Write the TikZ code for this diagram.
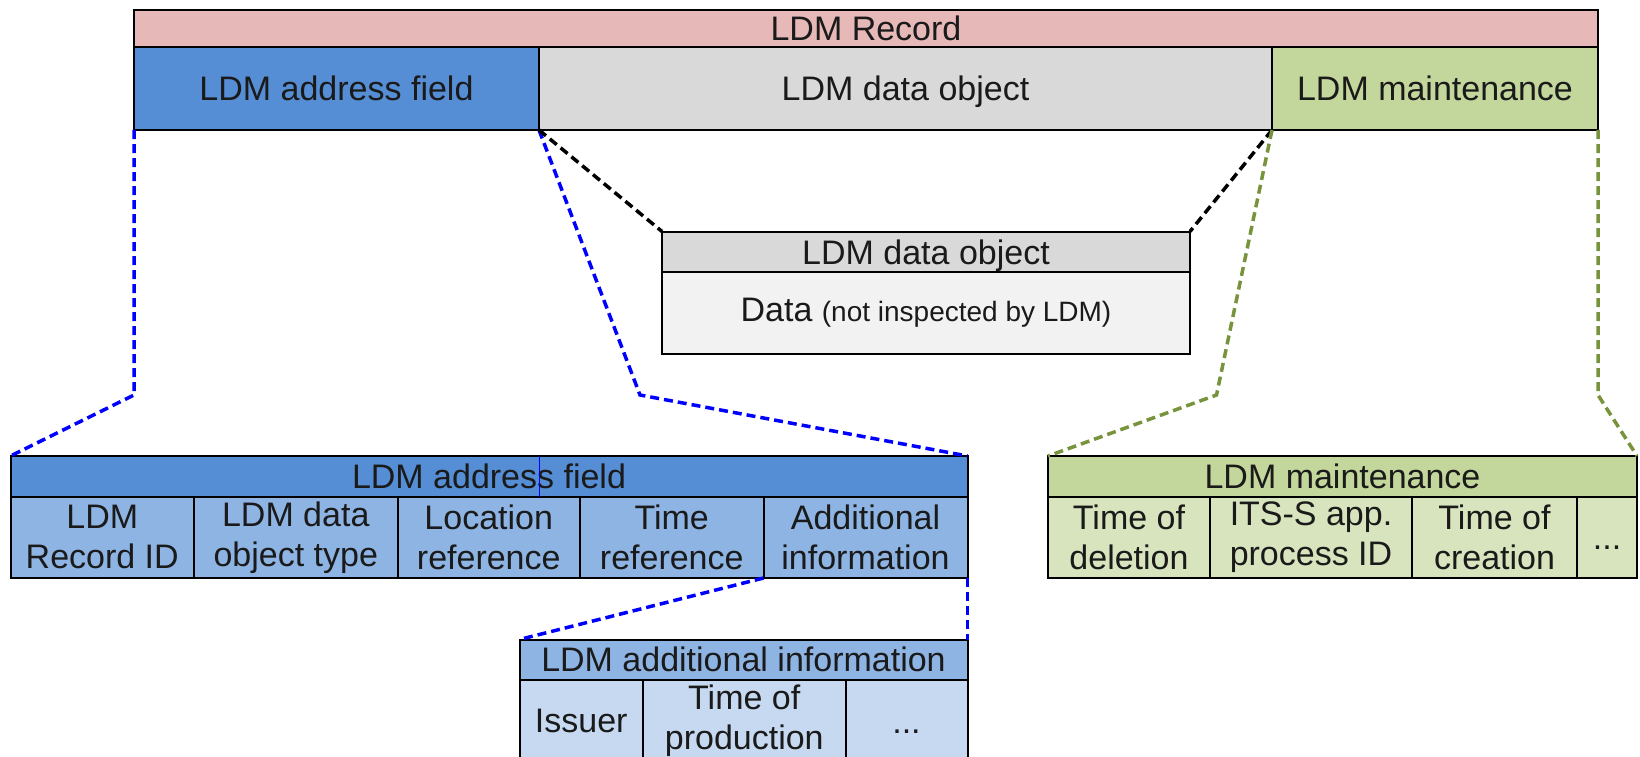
\documentclass[tikz,border=0pt]{standalone}
\usepackage{fontspec}
\setmainfont{Liberation Sans}

\definecolor{recpink}{HTML}{E6B8B7}
\definecolor{addrblue}{HTML}{558ED5}
\definecolor{objgray}{HTML}{D9D9D9}
\definecolor{maintgreen}{HTML}{C3D69B}
\definecolor{lightgray}{HTML}{F2F2F2}
\definecolor{midblue}{HTML}{8EB4E3}
\definecolor{paleblue}{HTML}{C6D9F1}
\definecolor{palegreen}{HTML}{D7E4BD}
\definecolor{olive}{HTML}{77933C}
\definecolor{dashblue}{HTML}{0000FF}
\definecolor{ink}{HTML}{1A1A1A}

\newcommand\bigfs{\fontsize{34}{40}\selectfont}
\newcommand\smallfs{\fontsize{28}{33}\selectfont}

\tikzset{
  box/.style={draw=black, line width=2pt, inner sep=0pt, outer sep=0pt,
              anchor=north west, font=\bigfs, text=ink, align=center},
  % baseline placed as for a line without descenders
  flatline/.style={text height=24.5pt, text depth=0pt},
  zoomline/.style={line width=3.5pt, dash pattern=on 9pt off 5pt},
  zoomblue/.style={zoomline, draw=dashblue},
  zoomblack/.style={zoomline, draw=black},
  zoomgreen/.style={zoomline, draw=olive},
}

\begin{document}
\begin{tikzpicture}[x=1pt, y=-1pt]
\useasboundingbox (0,0) rectangle (1640,757);
\clip (0,0) rectangle (1640,757);

% LDM record
\node[box, fill=recpink, minimum width=1464pt, minimum height=37pt] (rec) at (134,10) {LDM Record};
\node[box, fill=addrblue, minimum width=405pt, minimum height=83pt] (addr) at (134,47) {LDM address field};
\node[box, flatline, fill=objgray, minimum width=733pt, minimum height=83pt] (obj) at (539,47) {LDM data object};
\node[box, fill=maintgreen, minimum width=326pt, minimum height=83pt] (maint) at (1272,47) {LDM maintenance};

% data object detail
\node[box, flatline, fill=objgray, minimum width=528pt, minimum height=40.5pt] (objhead) at (662,231.5) {LDM data object};
\node[box, fill=lightgray, minimum width=528pt, minimum height=82pt] (objbody) at (662,272) {Data {\smallfs (not inspected by LDM)}};

% address field detail
\node[box, fill=addrblue, minimum width=957pt, minimum height=40.5pt] (ahead) at (10.5,456) {LDM address field};
\node[box, fill=midblue, minimum width=183.5pt, minimum height=81.5pt] (a1) at (10.5,496.5) {LDM\\Record ID};
\node[box, fill=midblue, minimum width=203.5pt, minimum height=81.5pt] (a2) at (194,496.5) {LDM data\\object type};
\node[box, fill=midblue, minimum width=182.5pt, minimum height=81.5pt] (a3) at (397.5,496.5) {Location\\reference};
\node[box, fill=midblue, minimum width=183.5pt, minimum height=81.5pt] (a4) at (580,496.5) {Time\\reference};
\node[box, fill=midblue, minimum width=204pt, minimum height=81.5pt] (a5) at (763.5,496.5) {Additional\\information};

% maintenance detail
\node[box, fill=maintgreen, minimum width=589pt, minimum height=40.5pt] (mhead) at (1048,456) {LDM maintenance};
\node[box, fill=palegreen, minimum width=162pt, minimum height=81.5pt] (m1) at (1048,496.5) {Time of\\deletion};
\node[box, fill=palegreen, minimum width=202pt, minimum height=81.5pt] (m2) at (1210,496.5) {ITS-S app.\\process ID};
\node[box, fill=palegreen, minimum width=165pt, minimum height=81.5pt] (m3) at (1412,496.5) {Time of\\creation};
\node[box, flatline, fill=palegreen, minimum width=60pt, minimum height=81.5pt] (m4) at (1577,496.5) {...};

% additional information detail
\node[box, fill=midblue, minimum width=448pt, minimum height=40pt] (xhead) at (519.5,639.5) {LDM additional information};
\node[box, fill=paleblue, minimum width=123.5pt, minimum height=82.5pt] (x1) at (519.5,679.5) {Issuer};
\node[box, fill=paleblue, minimum width=202.5pt, minimum height=82.5pt] (x2) at (643,679.5) {Time of\\production};
\node[box, flatline, fill=paleblue, minimum width=122pt, minimum height=82.5pt] (x3) at (845.5,679.5) {...};

% bend points of the zoom lines
\coordinate (bA) at (134,395);
\coordinate (bB) at (640,395);
\coordinate (bC) at (1216.5,395);
\coordinate (bD) at (1598,395);

% zoom lines
\draw[zoomblue] (addr.south west) -- (bA) -- (ahead.north west);
\draw[zoomblue] (addr.south east) -- (bB) -- (ahead.north east);
\draw[zoomblack] (obj.south west) -- (objhead.north west);
\draw[zoomblack] (obj.south east) -- (objhead.north east);
\draw[zoomgreen] (maint.south west) -- (bC) -- (mhead.north west);
\draw[zoomgreen] (maint.south east) -- (bD) -- (mhead.north east);
\draw[zoomblue] (a5.south west) -- (xhead.north west);
\draw[zoomblue] (a5.south east) -- (xhead.north east);

% thin blue mark in the address header
\draw[dashblue, line width=1pt] (addr.south east |- ahead.north) -- (addr.south east |- ahead.south);
\end{tikzpicture}
\end{document}
